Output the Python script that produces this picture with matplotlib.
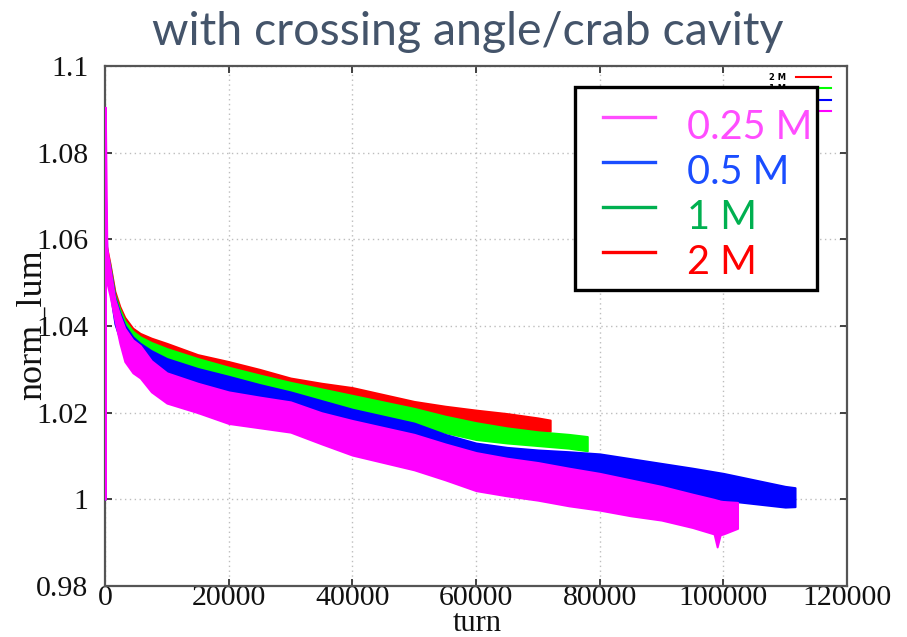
import matplotlib
matplotlib.use("Agg")
import matplotlib.pyplot as plt
from matplotlib.lines import Line2D
from matplotlib.patches import Rectangle
from matplotlib.transforms import Affine2D

# ---- data: luminosity band envelopes (upper / lower edge) per macro-particle count ----
labels = ["2 M", "1 M", "0.5 M", "0.25 M"]

turn_2m = [0, 50, 300, 800, 1600, 2400, 3200, 4500, 5700, 7500, 10000, 15000, 20000,
           25000, 30000, 35000, 40000, 45000, 50000, 55000, 60000, 65000, 70000, 72000]
upper_2m = [1.0, 1.060, 1.058, 1.0545, 1.0480, 1.0445, 1.0420, 1.0395, 1.0383, 1.0372,
            1.0360, 1.0334, 1.0318, 1.0300, 1.0280, 1.0268, 1.0258, 1.0242, 1.0226,
            1.0215, 1.0206, 1.0198, 1.0188, 1.0183]
lower_2m = [1.0, 1.054, 1.054, 1.0500, 1.0435, 1.0400, 1.0375, 1.0350, 1.0338, 1.0328,
            1.0316, 1.0290, 1.0274, 1.0256, 1.0238, 1.0226, 1.0216, 1.0202, 1.0188,
            1.0178, 1.0168, 1.0163, 1.0158, 1.0157]

turn_1m = [0, 50, 300, 800, 1600, 2400, 3200, 4500, 5700, 7500, 10000, 15000, 20000,
           25000, 30000, 35000, 40000, 45000, 50000, 55000, 60000, 65000, 70000, 75000,
           78000]
upper_1m = [1.0, 1.062, 1.057, 1.0540, 1.0472, 1.0438, 1.0412, 1.0388, 1.0375, 1.0362,
            1.0348, 1.0325, 1.0305, 1.0287, 1.0270, 1.0255, 1.0240, 1.0225, 1.0210,
            1.0192, 1.0177, 1.0165, 1.0156, 1.0150, 1.0145]
lower_1m = [1.0, 1.054, 1.053, 1.0490, 1.0420, 1.0385, 1.0360, 1.0335, 1.0320, 1.0310,
            1.0298, 1.0280, 1.0264, 1.0247, 1.0232, 1.0216, 1.0200, 1.0186, 1.0172,
            1.0154, 1.0138, 1.0130, 1.0124, 1.0118, 1.0112]

turn_05m = [0, 50, 300, 800, 1600, 2400, 3200, 4500, 5700, 7500, 10000, 15000, 20000,
            25000, 30000, 35000, 40000, 45000, 50000, 55000, 60000, 65000, 70000, 75000,
            80000, 85000, 90000, 95000, 100000, 105000, 110000, 111600]
upper_05m = [1.0, 1.072, 1.057, 1.0535, 1.0466, 1.0430, 1.0402, 1.0375, 1.0360, 1.0343,
             1.0325, 1.0302, 1.0284, 1.0265, 1.0248, 1.0228, 1.0208, 1.0192, 1.0176,
             1.0150, 1.0130, 1.0120, 1.0114, 1.0110, 1.0105, 1.0094, 1.0083, 1.0072,
             1.0060, 1.0045, 1.0030, 1.0027]
lower_05m = [1.0, 1.052, 1.052, 1.0480, 1.0405, 1.0370, 1.0340, 1.0315, 1.0300, 1.0288,
             1.0274, 1.0256, 1.0240, 1.0222, 1.0205, 1.0182, 1.0162, 1.0148, 1.0134,
             1.0110, 1.0090, 1.0082, 1.0074, 1.0062, 1.0050, 1.0040, 1.0028, 1.0012,
             0.9998, 0.9990, 0.9982, 0.9983]

turn_025m = [0, 50, 300, 800, 1600, 2400, 3200, 4500, 5700, 7500, 10000, 15000, 20000,
             25000, 30000, 35000, 40000, 45000, 50000, 55000, 60000, 65000, 70000, 75000,
             80000, 85000, 90000, 95000, 98500, 99000, 99500, 100000, 102300]
upper_025m = [1.0, 1.0905, 1.058, 1.0535, 1.0462, 1.0425, 1.0395, 1.0368, 1.0355,
              1.0320, 1.0292, 1.0268, 1.0248, 1.0236, 1.0225, 1.0200, 1.0182, 1.0166,
              1.0150, 1.0128, 1.0108, 1.0095, 1.0085, 1.0072, 1.0060, 1.0045, 1.0030,
              1.0012, 1.0000, 0.9998, 0.9996, 0.9995, 0.9993]
lower_025m = [1.0, 1.050, 1.050, 1.0470, 1.0413, 1.0360, 1.0318, 1.0292, 1.0280,
              1.0248, 1.0222, 1.0200, 1.0175, 1.0165, 1.0155, 1.0128, 1.0102, 1.0085,
              1.0068, 1.0045, 1.0020, 1.0008, 0.9998, 0.9985, 0.9975, 0.9962, 0.9952,
              0.9935, 0.9920, 0.9890, 0.9918, 0.9920, 0.9933]

series = [
    (turn_2m, lower_2m, upper_2m, "#ff0000"),
    (turn_1m, lower_1m, upper_1m, "#00ff00"),
    (turn_05m, lower_05m, upper_05m, "#0000ff"),
    (turn_025m, lower_025m, upper_025m, "#ff00ff"),
]

xticks = [0, 20000, 40000, 60000, 80000, 100000, 120000]
yticks = [0.98, 1.0, 1.02, 1.04, 1.06, 1.08, 1.1]
ytick_labels = ["0.98", "1", "1.02", "1.04", "1.06", "1.08", "1.1"]

# slide legend: (label, colour) in display order
slide_labels = ["0.25 M", "0.5 M", "1 M", "2 M"]
slide_colors = ["#ff4dff", "#1a4dff", "#00b050", "#ff0000"]

# ---- figure ----
W, H = 907, 637
fig = plt.figure(figsize=(W / 100, H / 100), dpi=100)
# pixel coordinates measured from the top-left corner of the canvas
px = Affine2D().scale(1 / W, -1 / H).translate(0, 1) + fig.transFigure

ax = fig.add_axes([105 / W, 1 - 586 / H, 742 / W, 520 / H])

handles = []
for t, lo, hi, c in series:
    ax.fill_between(t, lo, hi, color=c, lw=1.4, edgecolor=c, zorder=3)
    handles.append(Line2D([], [], color=c, lw=1.5))

ax.set_xlim(0, 120000)
ax.set_ylim(0.98, 1.1)
ax.set_xticks(xticks)
ax.set_xticklabels([str(v) for v in xticks])
ax.set_yticks(yticks)
ax.set_yticklabels(ytick_labels)

serif = "Liberation Serif"
for lab in ax.get_xticklabels() + ax.get_yticklabels():
    lab.set_fontfamily(serif)
    lab.set_fontsize(21.5)
    lab.set_color("#111111")

ax.tick_params(direction="in", length=5, width=1.3, color="#333333",
               top=True, right=True)
ax.tick_params(axis="x", pad=-1)
ax.tick_params(axis="y", pad=12)

ax.grid(True, color="#bdbdbd", linestyle=(0, (1, 2.5)), linewidth=1.0, zorder=0)
ax.set_axisbelow(True)
for sp in ax.spines.values():
    sp.set_color("#555555")
    sp.set_linewidth(1.6)

fig.text(477, 631, "turn", transform=px, ha="center", va="baseline",
         fontfamily=serif, fontsize=22, color="#111111")
fig.text(32, 325, "norm_lum", transform=px, rotation=90, ha="center", va="center",
         fontfamily=serif, fontsize=26, color="#111111")

# small plot key (top right corner)
key = ax.legend(handles, labels, loc="upper right", bbox_to_anchor=(0.985, 0.997),
                frameon=False, markerfirst=False, handlelength=4.2,
                handletextpad=1.2, labelspacing=0.3, borderpad=0.1,
                prop={"family": "DejaVu Sans", "weight": "bold", "size": 6})
key.set_zorder(6)

# slide legend box
fig.add_artist(Rectangle((575, 87), 242, 203, transform=px, facecolor="white",
                         edgecolor="black", linewidth=2.4, zorder=10))
line_rows = [117, 162, 207, 252]
text_base = [139, 184, 229, 274]
for lab, col, yl, yb in zip(slide_labels, slide_colors, line_rows, text_base):
    fig.add_artist(Line2D([603, 655], [yl, yl], transform=px, color=col, lw=2.4,
                          zorder=11))
    fig.text(687, yb, lab, transform=px, ha="left", va="baseline", color=col,
             fontfamily="Lato", fontsize=28.5, zorder=11)

fig.text(468, 45, "with crossing angle/crab cavity", transform=px, ha="center",
         va="baseline", fontfamily="Lato", fontsize=33.5, color="#44546a")

fig.savefig("out.png", dpi=100)
